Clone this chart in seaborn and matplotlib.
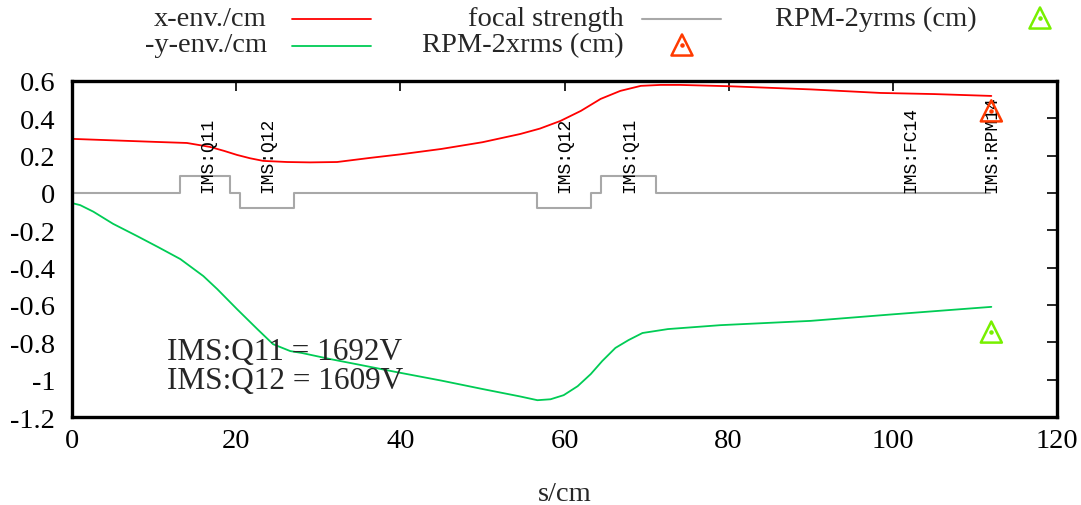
import numpy as np
import pandas as pd
import matplotlib
matplotlib.use("Agg")
import matplotlib.pyplot as plt
import seaborn as sns

# envelope data
s_x = [0, 5, 10, 14, 16.8, 18.5, 20.1, 21.7, 23.3, 26.2, 29, 32.3, 36.3, 40, 45, 50,
       54.6, 57, 59.5, 62, 64.4, 66.8, 69.3, 71.7, 74.1, 80, 90, 98.5, 105, 112]
x_env = [0.29, 0.282, 0.274, 0.268, 0.247, 0.226, 0.204, 0.186, 0.172, 0.166, 0.164, 0.166,
         0.188, 0.207, 0.236, 0.272, 0.316, 0.345, 0.386, 0.44, 0.504, 0.547, 0.574, 0.579,
         0.579, 0.572, 0.555, 0.536, 0.53, 0.52]

s_y = [0, 1, 2.6, 5, 7.9, 10.5, 13.2, 16.0, 17.7, 20.1, 22.6, 24.5, 26.6, 28, 31.5,
       35, 39.6, 45, 50, 54.6, 56.7, 58.3, 59.9, 61.6, 63.2, 64.6, 66.2, 67.8, 69.5,
       72.6, 79.0, 90, 100, 112]
y_env = [-0.054, -0.065, -0.10, -0.165, -0.23, -0.29, -0.354, -0.445, -0.515, -0.622,
         -0.73, -0.81, -0.847, -0.857, -0.89, -0.92, -0.96, -1.005, -1.05, -1.09, -1.11,
         -1.105, -1.083, -1.035, -0.97, -0.90, -0.83, -0.788, -0.75, -0.729, -0.708,
         -0.685, -0.65, -0.61]

# focal strength (step function)
s_focal = [0, 13.2, 19.3, 20.5, 27.1, 56.6, 63.2, 64.5, 71.1, 111.8]
k_focal = [0, 0.09, 0, -0.08, 0, -0.08, 0, 0.09, 0, 0]

# RPM measurements
s_rpm = [112]
rpm_x = [0.44]
rpm_y = [-0.745]

# element labels
elem_names = ["IMS:Q11", "IMS:Q12", "IMS:Q12", "IMS:Q11", "IMS:FC14", "IMS:RPM14"]
elem_pos = [16.5, 23.9, 60.0, 67.9, 102.2, 112.0]

quad_text = ["IMS:Q11 = 1692V", "IMS:Q12 = 1609V"]

xticks = [0, 20, 40, 60, 80, 100, 120]
yticks = [-1.2, -1.0, -0.8, -0.6, -0.4, -0.2, 0, 0.2, 0.4, 0.6]
ytick_labels = ["-1.2", "-1", "-0.8", "-0.6", "-0.4", "-0.2", "0", "0.2", "0.4", "0.6"]

c_red = "#ff0000"
c_green = "#00cc55"
c_gray = "#a8a8a8"
c_rpmx = "#ff3a00"
c_rpmy = "#77f000"

sns.set_style("white")
plt.rcParams["font.family"] = ["Liberation Serif", "DejaVu Serif"]
plt.rcParams["axes.unicode_minus"] = False

fig = plt.figure(figsize=(10.81, 5.06), dpi=100)
ax = fig.add_axes([72 / 1081, 1 - 418 / 506, (1057 - 72) / 1081, (418 - 82) / 506])

sns.lineplot(x=s_x, y=x_env, ax=ax, color=c_red, lw=1.3, sort=False, estimator=None)
sns.lineplot(x=s_y, y=y_env, ax=ax, color=c_green, lw=1.3, sort=False, estimator=None)
sns.lineplot(x=s_focal, y=k_focal, ax=ax, color=c_gray, lw=1.5, sort=False,
             estimator=None, drawstyle="steps-post")

for yv, col in [(rpm_x, c_rpmx), (rpm_y, c_rpmy)]:
    ax.scatter(s_rpm, yv, marker="^", s=230, facecolors="none", edgecolors=col,
               linewidths=1.8, zorder=5)
    ax.scatter(s_rpm, yv, marker="o", s=5, color=col, zorder=6)

for name, pos in zip(elem_names, elem_pos):
    ax.text(pos, 0.008, name, rotation=90, ha="center", va="bottom",
            fontsize=13, family="Liberation Mono", color="black")

ax.text(11.6, -0.848, quad_text[0], fontsize=22.5, va="center", ha="left")
ax.text(11.6, -1.005, quad_text[1], fontsize=22.5, va="center", ha="left")

ax.set_xlim(0, 120)
ax.set_ylim(-1.2, 0.6)
ax.set_xticks(xticks)
ax.set_xticklabels([str(t) for t in xticks])
ax.set_yticks(yticks)
ax.set_yticklabels(ytick_labels)
ax.tick_params(direction="in", length=7, width=1.2, top=True, right=True,
               labelsize=20.5, colors="black")
ax.tick_params(axis="x", pad=8)
ax.tick_params(axis="y", pad=12)
for sp in ax.spines.values():
    sp.set_linewidth(2.4)
    sp.set_color("black")
ax.set_xlabel("s/cm", fontsize=20.5, labelpad=20)
ax.set_ylabel("")

# legend (gnuplot style: text right-aligned, sample on the right)
def fx(px):
    return px / 1081

def fy(py):
    return 1 - py / 506

leg_fs = 20.5
fig.text(fx(267), fy(19), "x-env./cm", ha="right", va="center", fontsize=leg_fs)
fig.text(fx(267), fy(46), "-y-env./cm", ha="right", va="center", fontsize=leg_fs)
fig.text(fx(624), fy(19), "focal strength", ha="right", va="center", fontsize=leg_fs)
fig.text(fx(624), fy(46), "RPM-2xrms (cm)", ha="right", va="center", fontsize=leg_fs)
fig.text(fx(977), fy(19), "RPM-2yrms (cm)", ha="right", va="center", fontsize=leg_fs)
ax.plot([fx(292), fx(371)], [fy(20), fy(20)], color=c_red, lw=1.3,
        transform=fig.transFigure, clip_on=False)
ax.plot([fx(292), fx(371)], [fy(47), fy(47)], color=c_green, lw=1.3,
        transform=fig.transFigure, clip_on=False)
ax.plot([fx(642), fx(721)], [fy(20), fy(20)], color=c_gray, lw=1.5,
        transform=fig.transFigure, clip_on=False)
for px, py, col in [(682, 46, c_rpmx), (1040, 19, c_rpmy)]:
    ax.scatter([fx(px)], [fy(py)], marker="^", s=230, facecolors="none", edgecolors=col,
               linewidths=1.8, transform=fig.transFigure, clip_on=False)
    ax.scatter([fx(px)], [fy(py)], marker="o", s=5, color=col,
               transform=fig.transFigure, clip_on=False)

fig.savefig("out.png", dpi=100)
